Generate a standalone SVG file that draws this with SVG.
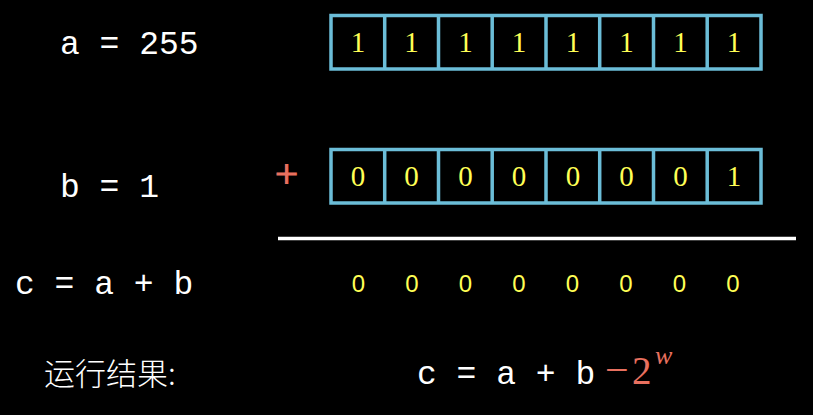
<svg xmlns="http://www.w3.org/2000/svg" width="813" height="415" viewBox="0 0 813 415">
<style>
.mono{font-family:"Liberation Mono","DejaVu Sans Mono",monospace;font-size:33px;fill:#ffffff}
.cell{fill:none;stroke:#6bbdd8;stroke-width:3.5}
.bit{font-family:"Liberation Serif","DejaVu Serif",serif;font-size:29px;fill:#ffff55;text-anchor:middle}
.res{font-family:"Liberation Sans","DejaVu Sans",sans-serif;font-size:24px;fill:#ffff55;text-anchor:middle}
.red{fill:#e8705f;font-family:"Liberation Serif","DejaVu Serif",serif}
</style>
<rect width="813" height="415" fill="#000000"/>
<g id="label-a"><text class="mono" x="60" y="54">a = 255</text></g>
<g id="label-b"><text class="mono" x="60" y="197">b = 1</text></g>
<g id="label-c"><text class="mono" x="15" y="294">c = a + b</text></g>
<g id="label-result"><text x="44" y="385" font-family="'Noto Sans CJK SC',sans-serif" font-size="31" font-weight="300" fill="#ffffff">运行结果:</text></g>
<g id="row-a">
<rect class="cell" x="331" y="15.5" width="430" height="53.5"/>
<path class="cell" d="M384.7 15.5V69M438.5 15.5V69M492.2 15.5V69M546 15.5V69M599.7 15.5V69M653.5 15.5V69M707.2 15.5V69"/>
<text class="bit" x="357.9" y="52">1</text><text class="bit" x="411.6" y="52">1</text><text class="bit" x="465.4" y="52">1</text><text class="bit" x="519.1" y="52">1</text><text class="bit" x="572.9" y="52">1</text><text class="bit" x="626.6" y="52">1</text><text class="bit" x="680.4" y="52">1</text><text class="bit" x="734.1" y="52">1</text>
</g>
<g id="row-b">
<rect class="cell" x="331" y="149.5" width="430" height="53.5"/>
<path class="cell" d="M384.7 149.5V203M438.5 149.5V203M492.2 149.5V203M546 149.5V203M599.7 149.5V203M653.5 149.5V203M707.2 149.5V203"/>
<text class="bit" x="357.9" y="186">0</text><text class="bit" x="411.6" y="186">0</text><text class="bit" x="465.4" y="186">0</text><text class="bit" x="519.1" y="186">0</text><text class="bit" x="572.9" y="186">0</text><text class="bit" x="626.6" y="186">0</text><text class="bit" x="680.4" y="186">0</text><text class="bit" x="734.1" y="186">1</text>
</g>
<g id="plus"><text class="red" x="286.5" y="187" font-size="41" text-anchor="middle" stroke="#e8705f" stroke-width="1.2">+</text></g>
<g id="sum-line"><line x1="278" y1="238.5" x2="796" y2="238.5" stroke="#ffffff" stroke-width="3.5"/></g>
<g id="row-c">
<text class="res" x="358.5" y="292">0</text><text class="res" x="412" y="292">0</text><text class="res" x="465.5" y="292">0</text><text class="res" x="519" y="292">0</text><text class="res" x="572.5" y="292">0</text><text class="res" x="626" y="292">0</text><text class="res" x="679.5" y="292">0</text><text class="res" x="733" y="292">0</text>
</g>
<g id="formula">
<text class="mono" x="417" y="384">c = a + b</text>
<text class="red" font-size="37"><tspan x="605" y="384" font-size="42">−</tspan><tspan x="632" y="384" font-size="39">2</tspan></text>
<text class="red" x="655" y="364" font-size="26" font-style="italic">w</text>
</g>
<g id="connectors"></g>
</svg>
